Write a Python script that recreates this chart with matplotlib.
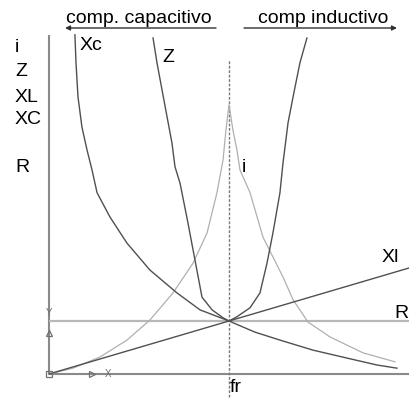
import numpy as np
import matplotlib
matplotlib.use("Agg")
import matplotlib.pyplot as plt

plt.rcParams['font.family'] = ['Liberation Sans', 'DejaVu Sans']

# frequency in units of fr, magnitudes in units of R
xc_f = [0.144, 0.150, 0.161, 0.183, 0.211, 0.239, 0.267, 0.339, 0.433, 0.561,
        0.711, 0.839, 1.0, 1.144, 1.283, 1.467, 1.656, 1.822, 1.933]
xc_v = [6.40, 5.87, 5.23, 4.66, 4.23, 3.85, 3.42, 2.96, 2.47, 1.96,
        1.53, 1.21, 1.0, 0.79, 0.64, 0.45, 0.30, 0.17, 0.11]

z_f = [0.578, 0.600, 0.628, 0.656, 0.683, 0.700, 0.728, 0.772, 0.811, 0.850,
       0.906, 0.967, 1.0, 1.044, 1.117, 1.172, 1.211, 1.244, 1.283, 1.300,
       1.328, 1.356, 1.394, 1.433]
z_v = [6.34, 5.87, 5.36, 4.85, 4.36, 3.91, 3.60, 2.85, 2.15, 1.45,
       1.21, 1.06, 1.0, 1.08, 1.25, 1.53, 2.09, 2.66, 3.42, 3.98,
       4.74, 5.23, 5.87, 6.34]

i_f = [0.0, 0.133, 0.283, 0.433, 0.561, 0.689, 0.8, 0.878, 0.933, 0.967, 0.983,
       1.0, 1.022, 1.044, 1.061, 1.117, 1.189, 1.3, 1.356, 1.439, 1.561, 1.744,
       1.922]
i_v = [0.0, 0.11, 0.32, 0.64, 1.02, 1.53, 2.09, 2.66, 3.42, 4.04, 4.60,
       5.08, 4.60, 4.23, 3.85, 3.42, 2.58, 1.83, 1.40, 0.98, 0.70, 0.40,
       0.23]

xl_f = [0.0, 1.0, 2.0]
xl_v = [0.0, 1.0, 2.0]

r_f = [0.0, 2.0]
r_v = [1.0, 1.0]

f_max = 2.0
v_max = 6.4
fr_top = 5.92
fr_bottom = -0.43

# pixel scale of the original drawing: 180 px per fr, 53 px per R
px_f = 180.0
px_v = 53.0

fig = plt.figure(figsize=(4.09, 3.99), dpi=100)
ax = fig.add_axes([0, 0, 1, 1])
ax.set_xlim(-49 / px_f, 360 / px_f)
ax.set_ylim(-25 / px_v, 374 / px_v)
ax.axis('off')

# axes of the drawing
ax.plot([0, 0], [0, v_max], color='#8a8a8a', lw=1.5, solid_capstyle='butt')
ax.plot([0, f_max], [0, 0], color='#8a8a8a', lw=1.5, solid_capstyle='butt')
ax.plot(r_f, r_v, color='#b8b8b8', lw=1.6, solid_capstyle='butt')
ax.plot([1, 1], [fr_bottom, fr_top], color='#7a7a7a', lw=1.0, ls=(0, (2, 1.2)))

# curves
ax.plot(i_f, i_v, color='#b0b0b0', lw=0.9)
ax.plot(xc_f, xc_v, color='#505050', lw=1.0)
ax.plot(z_f, z_v, color='#505050', lw=1.0)
ax.plot(xl_f, xl_v, color='#505050', lw=1.0)

# UCS icon bits
ax.plot([0], [0], marker='s', ms=5, mfc='none', mec='#707070', mew=0.9)
ax.plot([0], [0.77], marker='^', ms=5, mfc='none', mec='#707070', mew=0.9)
ax.plot([0.239], [0], marker='>', ms=5, mfc='none', mec='#707070', mew=0.9)
ax.text(0, 1.15, 'Y', fontsize=7, color='#707070', ha='center', va='center')
ax.text(0.328, 0, 'X', fontsize=7, color='#707070', ha='center', va='center')

# left labels
fs = 14
for lab, py in zip(['i', 'Z', 'XL', 'XC', 'R'], [47, 72, 97, 120, 168]):
    ax.text(-34 / px_f, (374 - py) / px_v, lab, fontsize=fs, ha='left', va='center')

# curve labels
ax.text(31 / px_f, (374 - 45) / px_v, 'Xc', fontsize=fs, ha='left', va='center')
ax.text(113 / px_f, (374 - 58) / px_v, 'Z', fontsize=fs, ha='left', va='center')
ax.text(193 / px_f, (374 - 168) / px_v, 'i', fontsize=fs, ha='left', va='center')
ax.text(333 / px_f, (374 - 257) / px_v, 'Xl', fontsize=fs, ha='left', va='center')
ax.text(359 / px_f, (374 - 313) / px_v, 'R', fontsize=fs, ha='right', va='center')
ax.text(181 / px_f, (374 - 388) / px_v, 'fr', fontsize=fs, ha='left', va='center')

# top: compartment arrows
ax.text(17 / px_f, (374 - 23) / px_v, 'comp. capacitivo', fontsize=fs,
        ha='left', va='baseline')
ax.text(209 / px_f, (374 - 23) / px_v, 'comp inductivo', fontsize=fs,
        ha='left', va='baseline')
ax.annotate('', xy=(16 / px_f, (374 - 28) / px_v), xytext=(167 / px_f, (374 - 28) / px_v),
            arrowprops=dict(arrowstyle='-|>', color='#303030', lw=1.0,
                            mutation_scale=7, shrinkA=0, shrinkB=0))
ax.annotate('', xy=(348 / px_f, (374 - 28) / px_v), xytext=(195 / px_f, (374 - 28) / px_v),
            arrowprops=dict(arrowstyle='-|>', color='#303030', lw=1.0,
                            mutation_scale=7, shrinkA=0, shrinkB=0))

fig.savefig('out.png', dpi=100)
